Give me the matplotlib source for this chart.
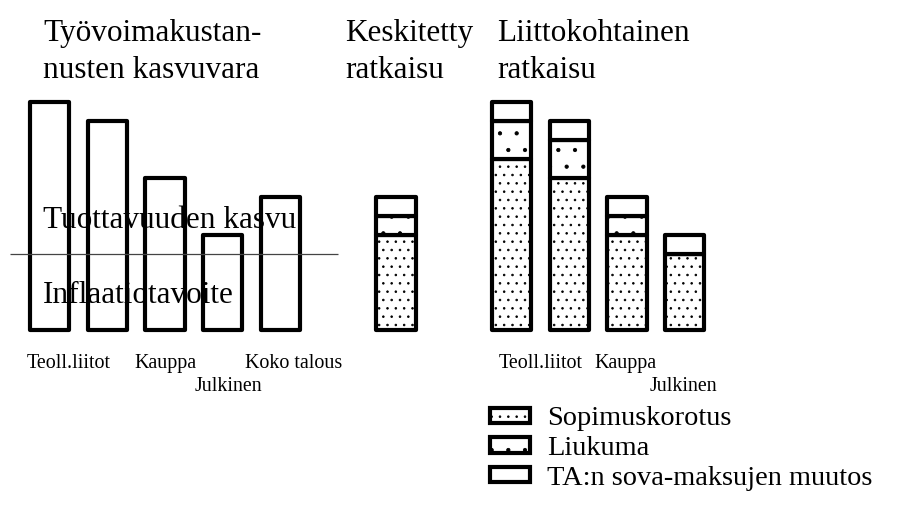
import matplotlib
matplotlib.use('Agg')
import matplotlib.pyplot as plt
from matplotlib.patches import Patch

plt.rcParams['font.family'] = ['Liberation Serif', 'DejaVu Serif']
plt.rcParams['hatch.linewidth'] = 0.6
plt.rcParams['hatch.color'] = 'black'

# ── Data ──
growth_labels = ['Teoll.liitot', '', 'Kauppa', 'Julkinen', 'Koko talous']
growth_room = [6.0, 5.5, 4.0, 2.5, 3.5]
inflation_target = 2.0

central_sopimus = [2.5]
central_liukuma = [0.5]
central_ta = [0.5]

union_labels = ['Teoll.liitot', '', 'Kauppa', 'Julkinen']
union_sopimus = [4.5, 4.0, 2.5, 2.0]
union_liukuma = [1.0, 1.0, 0.5, 0.0]
union_ta = [0.5, 0.5, 0.5, 0.5]

legend_labels = ['Sopimuskorotus', 'Liukuma', 'TA:n sova-maksujen muutos']

# ── Layout ──
x_growth = [0, 1, 2, 3, 4]
x_central = [6]
x_union = [8, 9, 10, 11]
W = 0.68
LW = 3.0
bar_kw = dict(width=W, facecolor='white', edgecolor='black', linewidth=LW,
              joinstyle='round', zorder=2)

fig = plt.figure(figsize=(9.13, 5.07), dpi=100)
ax = fig.add_axes([0, 0, 1, 1])
ax.set_xlim(-49.5 / 57.75, (913 - 49.5) / 57.75)
ax.set_ylim(-177 / 38, 330 / 38)
ax.axis('off')

# left group: plain outline bars
ax.bar(x_growth, growth_room, **bar_kw)
ax.hlines(inflation_target, -0.68, 5.0, color='#444444', linewidth=0.9, zorder=3)
ax.text(-0.11, 2.68, 'Tuottavuuden kasvu', fontsize=22.5, va='baseline', zorder=4)
ax.text(-0.11, 0.71, 'Inflaatiotavoite', fontsize=22.5, va='baseline', zorder=4)

# stacked bars
def stack(xs, sop, liuk, ta):
    ax.bar(xs, sop, hatch='..', **bar_kw)
    ax.bar(xs, liuk, bottom=sop, hatch='.', **bar_kw)
    ax.bar(xs, ta, bottom=[s + l for s, l in zip(sop, liuk)], **bar_kw)

stack(x_central, central_sopimus, central_liukuma, central_ta)
stack(x_union, union_sopimus, union_liukuma, union_ta)

# category labels (alternating rows)
lab_x_growth = [0.33, 1, 2, 3.09, 4.23]
for i, (lx, lab) in enumerate(zip(lab_x_growth, growth_labels)):
    ax.text(lx, -1.0 if i % 2 == 0 else -1.6, lab, fontsize=14.4,
            ha='center', va='baseline')
lab_x_union = [8.51, 9, 9.98, 10.98]
for i, (lx, lab) in enumerate(zip(lab_x_union, union_labels)):
    ax.text(lx, -1.0 if i % 2 == 0 else -1.6, lab, fontsize=14.4,
            ha='center', va='baseline')

# group titles (va='baseline' anchors the last line)
titles = ['Työvoimakustan-\nnusten kasvuvara', 'Keskitetty\nratkaisu',
          'Liittokohtainen\nratkaisu']
title_px = [43, 345, 497]
for t, px in zip(titles, title_px):
    ax.text(px / 913, 1 - 78 / 507, t, transform=ax.transAxes, fontsize=22.5,
            va='baseline', ha='left', linespacing=1.38)

# legend
handles = [Patch(facecolor='white', edgecolor='black', linewidth=LW, hatch='..', joinstyle='round'),
           Patch(facecolor='white', edgecolor='black', linewidth=LW, hatch='.', joinstyle='round'),
           Patch(facecolor='white', edgecolor='black', linewidth=LW, joinstyle='round')]
ax.legend(handles, legend_labels, loc='center left',
          bbox_to_anchor=(490 / 913, 1 - 448.5 / 507), frameon=False,
          fontsize=20.4, handlelength=1.41, handleheight=0.46,
          handletextpad=0.6, labelspacing=0.16, borderpad=0, borderaxespad=0)

fig.savefig('out.png', dpi=100)
